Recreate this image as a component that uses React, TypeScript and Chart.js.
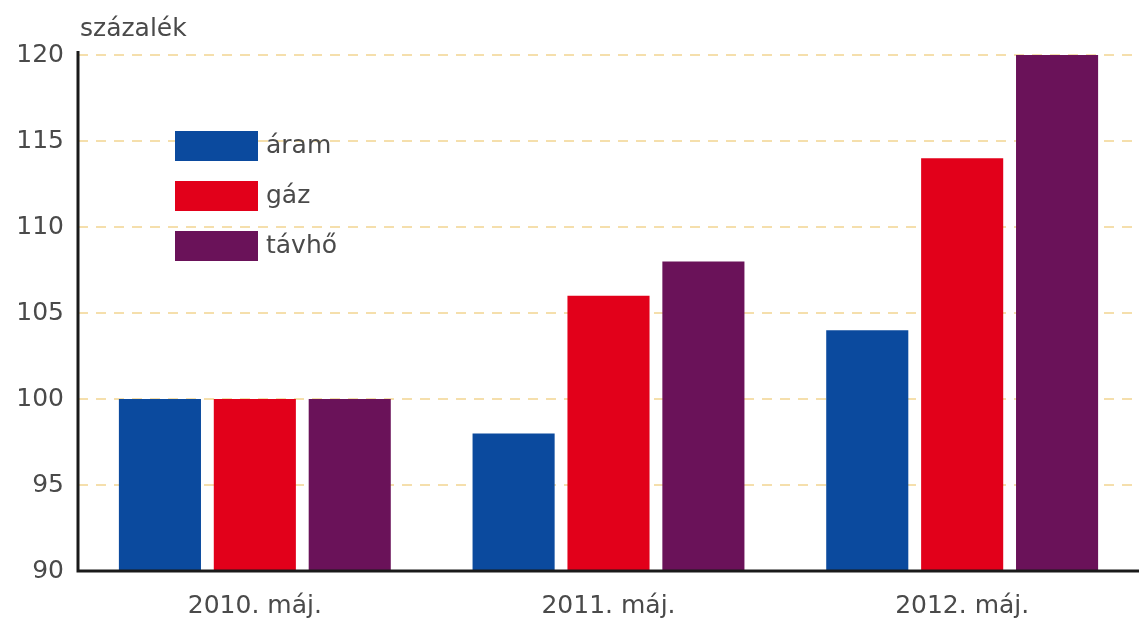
import React, { useEffect, useRef } from "react";
import { Chart, registerables } from "chart.js";

Chart.register(...registerables);

const categories = ["2010. máj.", "2011. máj.", "2012. máj."];
const seriesNames = ["áram", "gáz", "távhő"];
const aramValues = [100, 98, 104];
const gazValues = [100, 106, 114];
const tavhoValues = [100, 108, 120];
const seriesColors = ["#0b4a9e", "#e2001a", "#6a1259"];
const yTicks = [90, 95, 100, 105, 110, 115, 120];
const unitLabel = "százalék";

const FONT = "'DejaVu Sans', 'Liberation Sans', sans-serif";
const TEXT = "#4a4a4a";

const overlayPlugin = {
  id: "overlay",
  afterDraw(chart: any) {
    const ctx = chart.ctx;
    const area = chart.chartArea;
    ctx.save();
    // unit label
    ctx.fillStyle = TEXT;
    ctx.font = `25px ${FONT}`;
    ctx.textBaseline = "middle";
    ctx.textAlign = "left";
    ctx.fillText(unitLabel, 80, 29);
    // axis lines
    ctx.strokeStyle = "#1a1a1a";
    ctx.lineWidth = 3;
    ctx.beginPath();
    ctx.moveTo(area.left, area.top - 4);
    ctx.lineTo(area.left, area.bottom);
    ctx.lineTo(area.right, area.bottom);
    ctx.stroke();
    // legend
    const boxX = 175;
    const boxW = 83;
    const boxH = 30;
    const startY = 146;
    const step = 50;
    ctx.font = `25px ${FONT}`;
    chart.data.datasets.forEach((ds: any, i: number) => {
      const cy = startY + i * step;
      ctx.fillStyle = ds.backgroundColor;
      ctx.fillRect(boxX, cy - boxH / 2, boxW, boxH);
      ctx.fillStyle = TEXT;
      ctx.fillText(ds.label, boxX + boxW + 8, cy);
    });
    ctx.restore();
  },
};

export default function App() {
  const canvasRef = useRef<HTMLCanvasElement | null>(null);

  useEffect(() => {
    document.body.style.margin = "0";
    const canvas = canvasRef.current;
    if (!canvas) return;
    const chart = new Chart(canvas, {
      type: "bar",
      data: {
        labels: categories,
        datasets: [aramValues, gazValues, tavhoValues].map((vals, i) => ({
          label: seriesNames[i],
          data: vals,
          backgroundColor: seriesColors[i],
          borderWidth: 0,
          categoryPercentage: 0.805,
          barPercentage: 0.865,
        })),
      },
      options: {
        animation: false,
        responsive: false,
        maintainAspectRatio: false,
        layout: { padding: { top: 55, right: 0, left: 0, bottom: 0 } },
        plugins: {
          legend: { display: false },
          tooltip: { enabled: false },
          title: { display: false },
        },
        scales: {
          x: {
            grid: { display: false, drawTicks: false },
            border: { display: false },
            ticks: {
              color: TEXT,
              font: { family: FONT, size: 25 },
              padding: 20,
            },
            afterFit: (scale: any) => {
              scale.height = 50;
            },
          },
          y: {
            min: 90,
            max: 120,
            afterBuildTicks: (scale: any) => {
              scale.ticks = yTicks.map((v) => ({ value: v }));
            },
            grid: {
              color: (c: any) => (c.tick && c.tick.value === 90 ? "rgba(0,0,0,0)" : "#f5dfac"),
              lineWidth: 2,
              drawTicks: false,
            },
            border: { display: false, dash: [10, 8] },
            ticks: {
              color: TEXT,
              font: { family: FONT, size: 25 },
              padding: 14,
            },
            afterFit: (scale: any) => {
              scale.width = 78;
            },
          },
        },
      },
      plugins: [overlayPlugin],
    });
    return () => chart.destroy();
  }, []);

  return (
    <div style={{ position: "absolute", left: 0, top: 0, width: 1139, height: 621, background: "#fff" }}>
      <canvas ref={canvasRef} width={1139} height={621} style={{ width: 1139, height: 621, display: "block" }} />
    </div>
  );
}
